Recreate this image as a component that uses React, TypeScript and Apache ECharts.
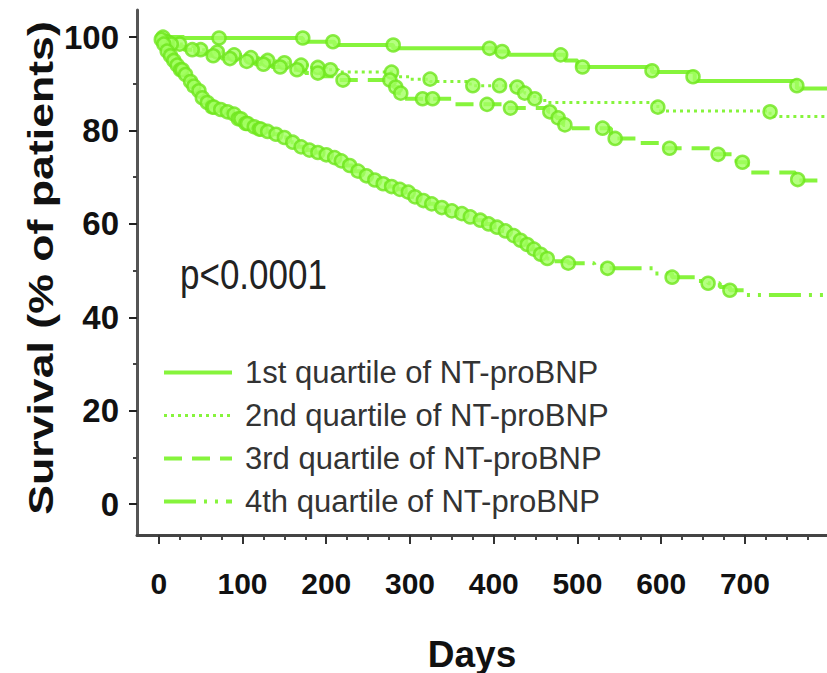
import React, { useEffect, useRef } from 'react';
import * as echarts from 'echarts';

const seriesNames = [
  '1st quartile of NT-proBNP',
  '2nd quartile of NT-proBNP',
  '3rd quartile of NT-proBNP',
  '4th quartile of NT-proBNP',
];
const yTitle = 'Survival (% of patients)';
const xTitle = 'Days';
const pValueText = 'p<0.0001';

const xTickLabels = [0, 100, 200, 300, 400, 500, 600, 700];
const xMinorTicks = [25, 50, 75, 125, 150, 175, 225, 250, 275, 325, 350, 375, 425, 450, 475, 525, 550, 575, 625, 650, 675, 725, 750, 775];
const yTickLabels = [0, 20, 40, 60, 80, 100];
const yMinorTicks = [10, 30, 50, 70, 90];

// [day, survival %]
const q1Steps = [[0, 100], [30, 99.8], [172, 99.0], [210, 98.3], [280, 97.6], [400, 96.9], [418, 96.2], [485, 95.0], [500, 93.6], [589, 92.5], [640, 90.6], [762, 89.0], [798, 89.0]];
const q1Censored = [[5, 100], [72, 99.8], [172, 99.8], [208, 99.0], [280, 98.3], [395, 97.6], [410, 96.9], [480, 96.2], [506, 93.6], [589, 92.8], [638, 91.5], [762, 89.6]];

const q2Steps = [[0, 100], [8, 99], [18, 98.5], [30, 98], [45, 97.3], [60, 96.8], [80, 96.2], [100, 95.6], [120, 95], [140, 94.5], [160, 94], [180, 93.5], [200, 93], [215, 92.5], [282, 91.5], [300, 91], [324, 90.5], [372, 89.6], [428, 89.3], [437, 88], [449, 86.8], [461, 86], [596, 84.2], [730, 83.0], [798, 83.0]];
const q2Censored = [[10, 99], [25, 98.5], [50, 97.3], [70, 96.8], [90, 96.2], [110, 95.6], [130, 95], [150, 94.5], [170, 94], [190, 93.5], [205, 93], [278, 92.5], [324, 91], [375, 89.6], [407, 89.6], [428, 89.3], [437, 88], [449, 86.8], [596, 85], [730, 84]];

const q3Steps = [[0, 100], [5, 99.5], [12, 98.5], [20, 98], [30, 97.3], [45, 96.5], [60, 96], [75, 95.4], [95, 94.8], [115, 94.2], [135, 93.6], [155, 93], [175, 92.3], [195, 91.6], [210, 90.8], [280, 89.3], [286, 88], [292, 86.8], [354, 85.6], [410, 84.8], [465, 84], [475, 82.7], [483, 81.2], [491, 80.5], [540, 78.3], [570, 77.3], [605, 76.2], [660, 74.9], [690, 73.2], [703, 71], [760, 69.3], [798, 69.3]];
const q3Censored = [[15, 98.5], [40, 97.3], [65, 96], [85, 95.4], [105, 94.8], [125, 94.2], [145, 93.6], [165, 93], [190, 92.3], [220, 90.8], [276, 90.8], [283, 89.3], [289, 88], [315, 86.8], [327, 86.8], [392, 85.6], [420, 84.8], [467, 84], [477, 82.7], [485, 81.2], [530, 80.5], [545, 78.3], [610, 76.2], [668, 74.9], [697, 73.2], [763, 69.5]];

const q4Steps = [[0, 100], [4, 98.5], [8, 97], [12, 96], [16, 95], [20, 94], [25, 93], [30, 92], [35, 90.5], [40, 89.5], [45, 88.5], [50, 87], [55, 86], [62, 85], [70, 84.5], [78, 84], [86, 83.5], [92, 82.5], [100, 81.5], [108, 80.8], [116, 80.3], [125, 79.8], [135, 79.2], [145, 78.5], [155, 77.5], [165, 76.5], [175, 75.8], [185, 75.3], [195, 74.8], [205, 74.2], [213, 73.5], [222, 72.5], [232, 71.3], [242, 70.3], [252, 69.4], [262, 68.6], [272, 68], [282, 67.4], [292, 66.8], [300, 65.8], [310, 65], [320, 64.3], [330, 63.5], [342, 62.8], [355, 62.2], [368, 61.5], [378, 60.8], [388, 60], [398, 59.3], [408, 58.5], [418, 57.5], [428, 56.5], [436, 55.6], [444, 54.6], [452, 53.5], [460, 52.6], [470, 52], [489, 51.6], [520, 51], [536, 50.5], [590, 49.4], [613, 48.6], [645, 47.8], [656, 47.3], [670, 46.5], [682, 45.8], [700, 44.8], [798, 44.8]];
const q4Censored = [[3, 99.5], [6, 98.5], [10, 97], [14, 96], [18, 95], [22, 94], [26, 93], [28, 93], [32, 92], [38, 90.5], [42, 89.5], [48, 88.5], [52, 87], [58, 86], [64, 85], [66, 85], [74, 84.5], [82, 84], [90, 83.5], [95, 82.5], [98, 82.5], [104, 81.5], [106, 81.5], [114, 80.8], [120, 80.3], [122, 80.3], [130, 79.8], [140, 79.2], [150, 78.5], [160, 77.5], [170, 76.5], [180, 75.8], [190, 75.3], [200, 74.8], [210, 74.2], [218, 73.5], [228, 72.5], [238, 71.3], [248, 70.3], [258, 69.4], [268, 68.6], [278, 68], [288, 67.4], [298, 66.8], [306, 65.8], [316, 65], [326, 64.3], [338, 63.5], [350, 62.8], [362, 62.2], [372, 61.5], [384, 60.8], [394, 60], [404, 59.3], [414, 58.5], [424, 57.5], [432, 56.5], [440, 55.6], [448, 54.6], [456, 53.5], [464, 52.6], [489, 51.6], [536, 50.5], [613, 48.6], [656, 47.3], [682, 45.8]];

const FONT = '"Liberation Sans", Arial, sans-serif';
const LINE = '#86f43c';
const MARK_FILL = '#a2ff62';
const MARK_BORDER = '#6ee61c';

const lineDefs = [
  { steps: q1Steps, censored: q1Censored, type: 'solid' as any, width: 4 },
  { steps: q2Steps, censored: q2Censored, type: [3, 4] as any, width: 3 },
  { steps: q3Steps, censored: q3Censored, type: [18, 10] as any, width: 4 },
  { steps: q4Steps, censored: q4Censored, type: [32, 8, 3, 8, 3, 8] as any, width: 4 },
];

export default function App() {
  const ref = useRef<HTMLDivElement>(null);
  useEffect(() => {
    if (!ref.current) return;
    const chart = echarts.init(ref.current, null, { renderer: 'svg' });
    const series: any[] = [];
    lineDefs.forEach((d, i) => {
      series.push({
        name: seriesNames[i],
        type: 'line',
        step: 'end',
        symbol: 'none',
        data: d.steps,
        lineStyle: { color: LINE, width: d.width, type: d.type },
        itemStyle: { color: LINE },
        z: 2,
      });
    });
    lineDefs.forEach((d, i) => {
      series.push({
        name: 'censored ' + (i + 1),
        type: 'scatter',
        symbol: 'circle',
        symbolSize: 13,
        data: d.censored,
        itemStyle: { color: MARK_FILL, borderColor: MARK_BORDER, borderWidth: 2.5 },
        z: 3,
        silent: true,
      });
    });
    chart.setOption({
      animation: false,
      backgroundColor: '#ffffff',
      grid: { left: 137, right: 0, top: 10, bottom: 138, outerBoundsMode: 'none', containLabel: false },
      xAxis: [
        {
          type: 'value',
          min: -26,
          max: 798,
          name: xTitle,
          nameLocation: 'middle',
          nameGap: 104,
          nameTextStyle: { fontFamily: FONT, fontWeight: 'bold', fontSize: 37, lineHeight: 30, color: '#111', padding: [0, 20, 0, 0] },
          axisLine: { show: true, onZero: false, lineStyle: { color: '#444', width: 3 } },
          axisTick: { show: true, customValues: xTickLabels, length: 9, lineStyle: { color: '#333', width: 2 } },
          axisLabel: { customValues: xTickLabels, margin: 33, fontFamily: FONT, fontWeight: 'bold', fontSize: 30, color: '#111' },
          splitLine: { show: false },
        },
        {
          type: 'value',
          position: 'bottom',
          min: -26,
          max: 798,
          axisLine: { show: false, onZero: false },
          axisTick: { show: true, customValues: xMinorTicks, length: 5, lineStyle: { color: '#444', width: 2 } },
          axisLabel: { show: false },
          splitLine: { show: false },
        },
      ],
      yAxis: [
        {
          type: 'value',
          min: -6.6,
          max: 105.8,
          axisLine: { show: true, onZero: false, lineStyle: { color: '#555', width: 3 } },
          axisTick: { show: true, customValues: yTickLabels, length: 8, lineStyle: { color: '#222', width: 2 } },
          axisLabel: { customValues: yTickLabels, margin: 18, fontFamily: FONT, fontWeight: 'bold', fontSize: 33, color: '#111' },
          splitLine: { show: false },
        },
        {
          type: 'value',
          position: 'left',
          min: -6.6,
          max: 105.8,
          axisLine: { show: false, onZero: false },
          axisTick: { show: true, customValues: yMinorTicks, length: 4, lineStyle: { color: '#444', width: 2 } },
          axisLabel: { show: false },
          splitLine: { show: false },
        },
      ],
      legend: {
        orient: 'vertical',
        left: 162,
        top: 357,
        padding: 0,
        itemWidth: 68,
        itemHeight: 14,
        itemGap: 12,
        selectedMode: false,
        itemStyle: { opacity: 0 },
        textStyle: { fontFamily: FONT, fontSize: 31, color: '#333', padding: [0, 0, 0, 8] },
        data: seriesNames.map((n, i) => ({
          name: n,
          lineStyle: { width: lineDefs[i].width, type: lineDefs[i].type, color: LINE },
        })),
      },
      graphic: [
        {
          type: 'text',
          x: 180,
          y: 274,
          scaleY: 1.2,
          style: { text: pValueText, font: `35px ${FONT}`, fill: '#222', textVerticalAlign: 'middle' },
        },
        {
          type: 'text',
          x: 41,
          y: 268,
          rotation: Math.PI / 2,
          scaleX: 1.24,
          style: { text: yTitle, font: `bold 36px ${FONT}`, fill: '#111', textAlign: 'center', textVerticalAlign: 'middle' },
        },
      ],
      series,
    });
    return () => chart.dispose();
  }, []);
  return <div ref={ref} style={{ position: 'fixed', left: 0, top: 0, width: 827, height: 673 }} />;
}
